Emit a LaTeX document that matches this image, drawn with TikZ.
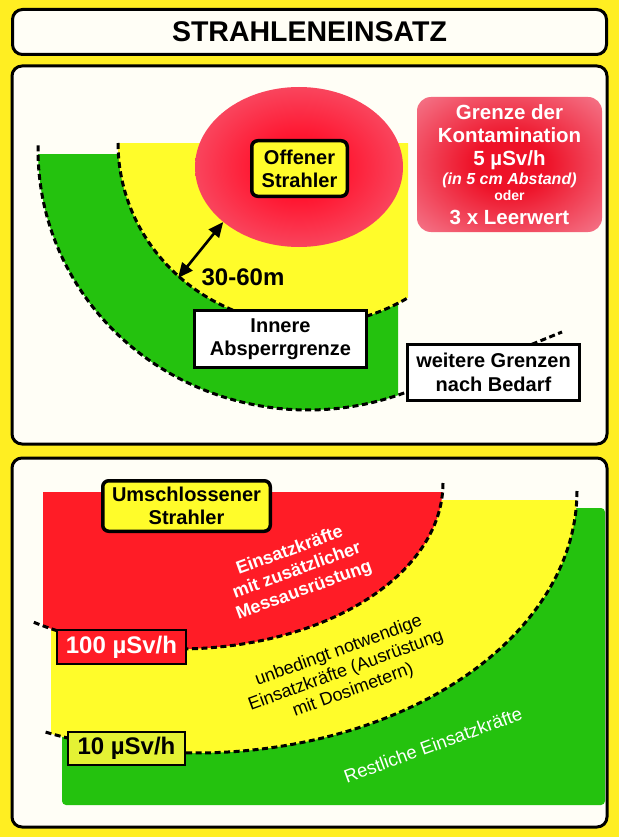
\documentclass[tikz,border=0pt]{standalone}
\usepackage{fontspec}
\setmainfont{Liberation Sans}
\usetikzlibrary{shapes.geometric,arrows.meta}

\definecolor{bgyellow}{RGB}{255,238,34}
\definecolor{paper}{RGB}{255,254,246}
\definecolor{zoneyellow}{RGB}{255,252,42}
\definecolor{zonegreen}{RGB}{36,194,14}
\definecolor{zonered}{RGB}{255,28,38}
\definecolor{glowred}{RGB}{255,22,48}
\definecolor{glowmid}{RGB}{248,78,102}
\definecolor{glowpink}{RGB}{244,140,158}
\definecolor{limitred}{RGB}{238,18,40}
\definecolor{limitpink}{RGB}{244,112,132}
\definecolor{limitpale}{RGB}{251,196,204}
\definecolor{limebox}{RGB}{228,242,52}

% soft red glow of the open source and of the contamination note
\pgfdeclareradialshading{sourceglow}{\pgfpointorigin}{color(0bp)=(glowred); color(10bp)=(glowred); color(28bp)=(glowmid); color(44bp)=(glowpink); color(100bp)=(glowpink)}
\pgfdeclareradialshading{limitglow}{\pgfpointorigin}{color(0bp)=(limitred); color(10bp)=(limitred); color(34bp)=(limitpink); color(54bp)=(limitpale); color(100bp)=(limitpale)}

\tikzset{
  frame/.style={draw=black, line width=3pt, rounded corners=10pt},
  boundary/.style={draw=black, line width=3pt, dash pattern=on 6pt off 3.5pt},
  sourcebox/.style={draw=black, line width=3.5pt, fill=zoneyellow, rounded corners=6pt,
    align=center, inner sep=0pt, font=\bfseries\fontsize{20}{23}\selectfont},
  labelbox/.style={draw=black, line width=2.6pt, fill=white, align=center, inner sep=0pt,
    font=\bfseries\fontsize{20}{23.5}\selectfont},
  ratebox/.style={draw=black, line width=2pt, inner sep=0pt,
    font=\bfseries\fontsize{24}{26}\selectfont},
  limittext/.style={text=white, anchor=base, inner sep=0pt, font=\bfseries\fontsize{20.5}{22}\selectfont},
  measure/.style={line width=2.6pt,
    arrows={Triangle[length=15pt,width=13pt]-Triangle[length=15pt,width=13pt]}},
  crew/.style={rotate=20, align=center, inner sep=0pt},
}

\begin{document}
\begin{tikzpicture}[x=1pt, y=-1pt]
\useasboundingbox (0,0) rectangle (619,837);
\fill[bgyellow] (0,0) rectangle (619,837);

% ---------- heading ----------
\node[draw=black, line width=3pt, fill=paper, rounded corners=10pt,
      minimum width=594pt, minimum height=45pt, inner sep=0pt,
      font=\bfseries\fontsize{28.5}{30}\selectfont] (title) at (309.5,32) {STRAHLENEINSATZ};

% ---------- open source ----------
\fill[paper, rounded corners=10pt] (12,66) rectangle (607,444);
\begin{scope}
  \clip (38,155) rectangle (398,430);
  \fill[zonegreen] (308,150) ellipse [x radius=270pt, y radius=260pt];
\end{scope}
\begin{scope}
  \clip (118,144) rectangle (408,330);
  \fill[zoneyellow] (308,143) ellipse [x radius=190pt, y radius=182pt];
\end{scope}

% outer cordon, running on behind the note box
\draw[boundary] plot[domain=181:69, samples=90] ({308+270*cos(\x)},{150+260*sin(\x)})
  .. controls (455,377) and (515,351) .. (562,332);
% inner cordon
\draw[boundary] plot[domain=180:58, samples=90] ({308+190*cos(\x)},{143+182*sin(\x)});

\node[ellipse, minimum width=208pt, minimum height=160pt, inner sep=0pt,
      shade, shading=sourceglow] (src) at (299,167) {};
\node[sourcebox, minimum width=95.5pt, minimum height=55.5pt] (open) at (299.5,168.5) {Offener\\Strahler};

\coordinate (cordon) at (178,278);
\draw[measure] (src.216) -- (cordon);
\node[inner sep=0pt, font=\bfseries\fontsize{24}{26}\selectfont] (dist) at (243,277) {30-60m};

\node[labelbox, minimum width=172pt, minimum height=57pt] (innerline) at (280.5,339) {Innere\\Absperrgrenze};
\node[labelbox, minimum width=172pt, minimum height=56pt] (further) at (493.5,372.5) {weitere Grenzen\\nach Bedarf};

% contamination limit note
\node[rounded corners=14pt, minimum width=185pt, minimum height=135pt, inner sep=0pt,
      shade, shading=limitglow] (limit) at (509.5,164.5) {};
\node[limittext] (lim1) at (509.5,119.3) {Grenze der};
\node[limittext] (lim2) at (509.5,142.7) {Kontamination};
\node[limittext] (lim3) at (509.5,166) {5 µSv/h};
\node[limittext, font=\bfseries\itshape\fontsize{16}{18}\selectfont] (lim4) at (509.5,185) {(in 5 cm Abstand)};
\node[limittext, font=\bfseries\fontsize{14}{16}\selectfont] (lim5) at (509.5,200.7) {oder};
\node[limittext] (lim6) at (509.5,224) {3 x Leerwert};

\draw[frame] (12,66) rectangle (607,444);

% ---------- sealed source ----------
\fill[paper, rounded corners=10pt] (12,458) rectangle (607,827);
\fill[zonegreen, rounded corners=4pt] (62,508) rectangle (605,805);
\begin{scope}
  \clip (51,500) rectangle (577,770);
  \fill[zoneyellow] (195,491) ellipse [x radius=382pt, y radius=262pt];
\end{scope}
\begin{scope}
  \clip (43,492) rectangle (443,660);
  \fill[zonered] (178,483) ellipse [x radius=265pt, y radius=166pt];
\end{scope}

\draw[boundary] plot[domain=0:123.2, samples=90] ({178+265*cos(\x)},{483+166*sin(\x)});
\draw[boundary] plot[domain=0:113.4, samples=90] ({195+382*cos(\x)},{491+262*sin(\x)});

\node[crew, text=white, font=\bfseries\fontsize{18}{21}\selectfont] (crewred) at (297,571)
  {Einsatzkräfte\\mit zusätzlicher\\Messausrüstung};
\node[crew, font=\fontsize{18}{21}\selectfont] (crewyellow) at (346,671)
  {unbedingt notwendige\\Einsatzkräfte (Ausrüstung\\mit Dosimetern)};
\node[crew, text=white, font=\fontsize{18.5}{21}\selectfont] (crewgreen) at (433,745)
  {Restliche Einsatzkräfte};

\node[sourcebox, minimum width=167.5pt, minimum height=50.5pt] (sealed) at (186.5,506) {Umschlossener\\Strahler};
\node[ratebox, fill=zonered, text=white, minimum width=129pt, minimum height=34pt] (high) at (121.5,647) {100 µSv/h};
\node[ratebox, fill=limebox, minimum width=117pt, minimum height=33pt] (low) at (126.5,748.5) {10 µSv/h};

\draw[frame] (12,458) rectangle (607,827);
\end{tikzpicture}
\end{document}
